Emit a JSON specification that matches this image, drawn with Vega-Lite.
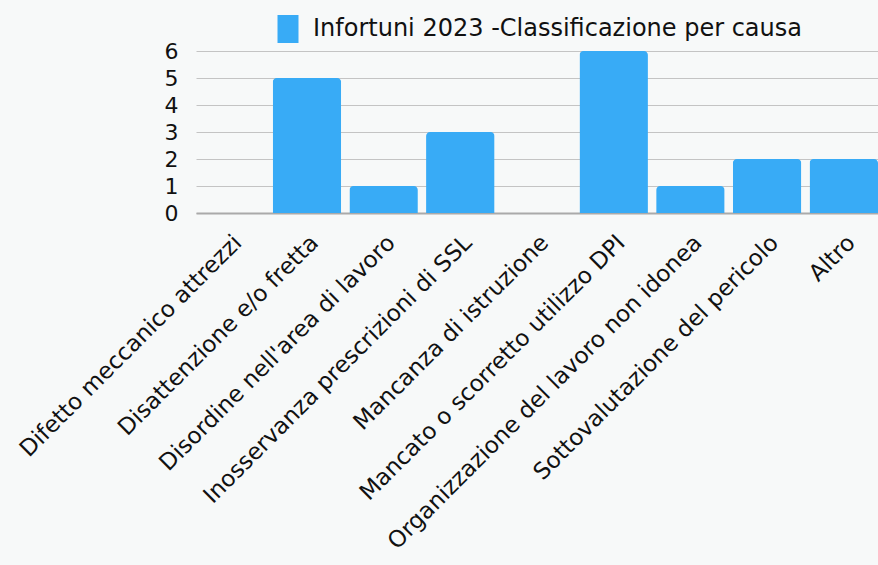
{
  "$schema": "https://vega.github.io/schema/vega-lite/v6.json",
  "width": 682,
  "height": 162,
  "autosize": {"type": "none"},
  "padding": {"left": 196, "top": 51, "right": 0, "bottom": 352},
  "background": "#f7f9f9",
  "data": {"values": [
    {"causa": "Difetto meccanico attrezzi", "valore": 0, "serie": "Infortuni 2023 -Classificazione per causa"},
    {"causa": "Disattenzione e/o fretta", "valore": 5, "serie": "Infortuni 2023 -Classificazione per causa"},
    {"causa": "Disordine nell'area di lavoro", "valore": 1, "serie": "Infortuni 2023 -Classificazione per causa"},
    {"causa": "Inosservanza prescrizioni di SSL", "valore": 3, "serie": "Infortuni 2023 -Classificazione per causa"},
    {"causa": "Mancanza di istruzione", "valore": 0, "serie": "Infortuni 2023 -Classificazione per causa"},
    {"causa": "Mancato o scorretto utilizzo DPI", "valore": 6, "serie": "Infortuni 2023 -Classificazione per causa"},
    {"causa": "Organizzazione del lavoro non idonea", "valore": 1, "serie": "Infortuni 2023 -Classificazione per causa"},
    {"causa": "Sottovalutazione del pericolo", "valore": 2, "serie": "Infortuni 2023 -Classificazione per causa"},
    {"causa": "Altro", "valore": 2, "serie": "Infortuni 2023 -Classificazione per causa"}
  ]},
  "mark": {"type": "bar", "cornerRadiusTopLeft": 4, "cornerRadiusTopRight": 4},
  "encoding": {
    "x": {
      "field": "causa", "type": "nominal", "sort": null,
      "scale": {"paddingInner": 0.107, "paddingOuter": 0},
      "axis": {"title": null, "labelAngle": -45, "labelFontSize": 23, "labelColor": "#111111", "ticks": false, "domain": true, "domainColor": "#aaaaaa", "domainWidth": 2, "labelPadding": 18, "labelLimit": 600}
    },
    "y": {
      "field": "valore", "type": "quantitative",
      "scale": {"domain": [0, 6], "nice": false},
      "axis": {"title": null, "values": [0,1,2,3,4,5,6], "labelFontSize": 22, "labelColor": "#111111", "ticks": false, "domain": false, "gridColor": "#c4c4c4", "labelPadding": 18}
    },
    "color": {
      "field": "serie", "type": "nominal",
      "scale": {"range": ["#38abf6"]},
      "legend": {"title": null, "orient": "top", "labelFontSize": 24, "labelColor": "#111111", "symbolType": "M-0.75,-1H0.75V1H-0.75Z", "symbolSize": 784, "symbolOpacity": 1, "labelLimit": 700, "labelOffset": 10, "offset": 8}
    }
  },
  "config": {
    "font": "DejaVu Sans",
    "view": {"stroke": null},
    "legend": {"layout": {"top": {"anchor": "middle"}}}
  }
}
